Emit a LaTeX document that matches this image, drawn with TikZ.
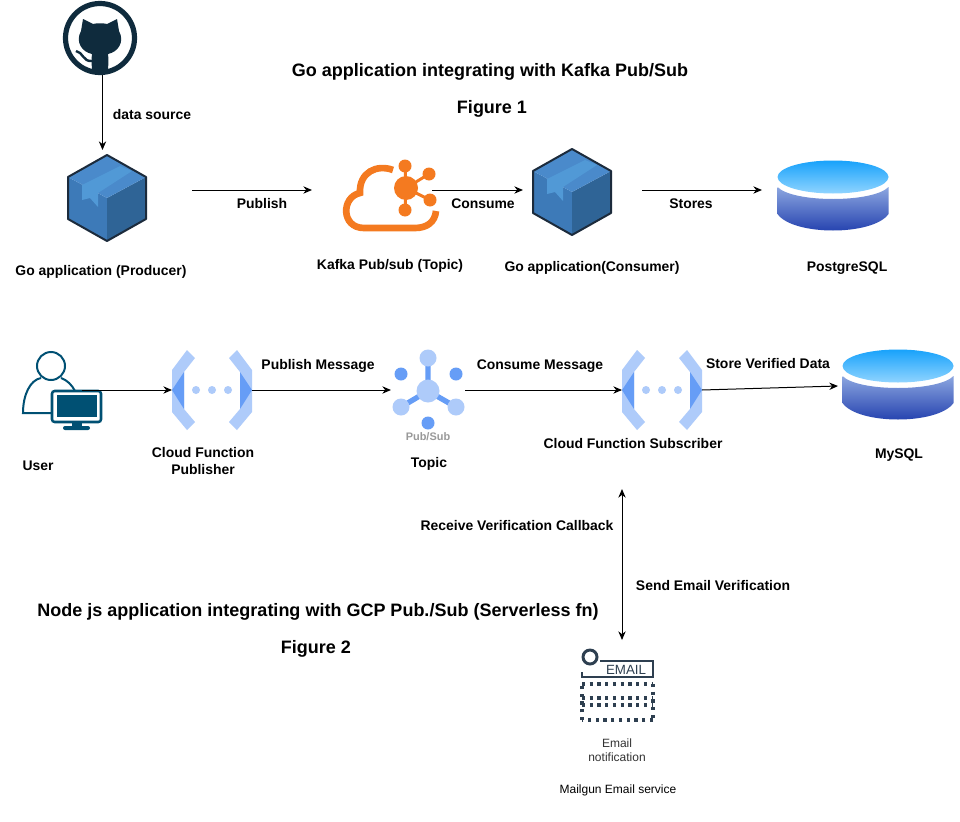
\documentclass[tikz,border=0pt]{standalone}
\usepackage{fontspec}
\usetikzlibrary{arrows.meta}
\setmainfont{Liberation Sans}
\definecolor{octo}{HTML}{0F2B3D}
\definecolor{boxtop}{HTML}{4A8ACB}
\definecolor{boxleft}{HTML}{3D7AB8}
\definecolor{boxright}{HTML}{2F6496}
\definecolor{boxedge}{HTML}{1C2B3C}
\definecolor{boxtape}{HTML}{5199D6}
\definecolor{kafka}{HTML}{F47A20}
\definecolor{gcplight}{HTML}{AECBFA}
\definecolor{gcpdark}{HTML}{669DF6}
\definecolor{usercol}{HTML}{005073}
\definecolor{mailcol}{HTML}{2E3F50}
\definecolor{dbtopa}{HTML}{18A2FB}
\definecolor{dbtopb}{HTML}{90D4FF}
\definecolor{dbbodya}{HTML}{8CA6E0}
\definecolor{dbbodyb}{HTML}{1A38AA}
\tikzset{
  iconnode/.style 2 args={inner sep=0pt,outer sep=0pt,minimum width=#1*0.75pt,minimum height=#2*0.75pt},
  label/.style={font=\bfseries\fontsize{10.45}{12.8}\selectfont,align=center,inner sep=0pt,yshift=-0.5pt},
  heading/.style={font=\bfseries\fontsize{13.5}{16}\selectfont,align=center,inner sep=0pt,yshift=-1pt},
  small/.style={font=\fontsize{9}{10.5}\selectfont,align=center,inner sep=0pt,text=black!80},
  gobox/.pic={
    \fill[boxleft] (-39,-21) -- (0,0) -- (0,43) -- (-39,21) -- cycle;
    \fill[boxright] (39,-21) -- (0,0) -- (0,43) -- (39,21) -- cycle;
    \fill[boxtop] (0,-43) -- (39,-21) -- (0,0) -- (-39,-21) -- cycle;
    \fill[boxtape] (-25,-13) -- (-25,2) -- (-17,0) -- (-9,9) -- (-9,-5) -- (25,-27) -- (13,-32) -- cycle;
    \draw[boxedge,line width=1.5pt,line join=round] (0,-43) -- (39,-21) -- (39,21) -- (0,43) -- (-39,21) -- (-39,-21) -- cycle;
  },
  dbcyl/.pic={
    \shade[top color=dbbodya,bottom color=dbbodyb] (-55.5,10) .. controls (-40,26) and (40,26) .. (55.5,10) -- (55.5,37) .. controls (40,59) and (-40,59) .. (-55.5,37) -- cycle;
    \shade[top color=dbtopa,bottom color=dbtopb] (0,0) ellipse [x radius=55.5,y radius=16.5];
  },
  cloudfn/.pic={
    \foreach \s in {-1,1} {
      \fill[gcplight,xscale=\s] (-25,-40) -- (-17,-32) -- (-28,-18) -- (-28,19) -- (-17,32) -- (-25,40) -- (-40,22) -- (-40,-20) -- cycle;
      \fill[gcpdark,xscale=\s] (-40,0) -- (-28,-18) -- (-28,19) -- cycle;
    }
    \foreach \x in {-16,0,16} \fill[gcplight] (\x,0) circle [radius=4];
  },
}
\begin{document}
\begin{tikzpicture}[x=0.75pt,y=-0.75pt,>={Stealth[length=6.5pt,width=5.5pt]},line width=0.75pt]
  \useasboundingbox (0,0) rectangle (960,821);
  \fill[white] (0,0) rectangle (960,821);

  \node[heading] (title1) at (490,71) {Go application integrating with Kafka Pub/Sub};
  \node[heading] (fig1) at (492,108) {Figure 1};
  \node[heading] (title2) at (318,611) {Node js application integrating with GCP Pub./Sub (Serverless fn)};
  \node[heading] (fig2) at (316,648) {Figure 2};

  \node[iconnode={76}{76}] (github) at (102.5,37) {};
  \node[iconnode={170}{80}] (producer) at (107,190) {};
  \node[iconnode={120}{80}] (kafkatopic) at (372,190) {};
  \node[iconnode={119}{80}] (consumer) at (582.5,190) {};
  \node[iconnode={142}{80}] (postgres) at (833,190) {};
  \node[iconnode={60}{80}] (user) at (52,390) {};
  \node[iconnode={80}{80}] (publisher) at (212,390) {};
  \node[iconnode={74}{80}] (topic) at (428,390) {};
  \node[iconnode={80}{80}] (subscriber) at (662,390) {};
  \node[iconnode={120}{80}] (mysql) at (898,386) {};
  \node[iconnode={80}{80}] (email) at (622,680) {};
  \coordinate (callback) at (622,489);

  % github
  \draw[octo,line width=3.9pt] (100,38) circle [radius=34.5];
  \fill[octo] (83,19) -- (93,24) .. controls (97,23) and (103,23) .. (107,24) -- (117,19) -- (119,31) .. controls (125,42) and (118,52) .. (108,54) .. controls (109,60) and (108,66) .. (108,73) -- (92,73) .. controls (92,66) and (91,60) .. (92,54) .. controls (82,52) and (75,42) .. (81,31) -- cycle;
  \draw[octo,line width=1.8pt] (76,51) .. controls (83,52) and (83,62) .. (92,61);

  \pic at (107,198) {gobox};
  \pic at (572,192) {gobox};

  % kafka
  \draw[kafka,line width=5pt] (393,170) .. controls (377,164) and (359,172) .. (360,193) .. controls (341,197) and (341,228) .. (364,228) -- (415,228) .. controls (427,228) and (435,222) .. (436,211);
  \draw[kafka,line width=2.2pt] (406,188) -- (405,166) (406,188) -- (429,174) (406,188) -- (430,200) (406,188) -- (405,210);
  \fill[kafka] (406,188) circle [radius=12];
  \fill[kafka] (405,166) circle [radius=6.5] (429,174) circle [radius=6.5] (430,200) circle [radius=6.5] (405,210) circle [radius=6.5];

  \pic at (833,177) {dbcyl};
  \pic at (898,366) {dbcyl};

  % user
  \draw[usercol,line width=1.5pt] (51,366) circle [radius=14];
  \draw[usercol,line width=1.5pt] (51,413) -- (23,413) .. controls (23,395) and (30,380) .. (41,378);
  \draw[usercol,line width=1.5pt] (61,378) .. controls (67,380) and (72,385) .. (75,391);
  \draw[usercol,line width=1.9pt,fill=white,rounded corners=2pt] (52,391) rectangle (101,422);
  \fill[usercol] (57,395) rectangle (97,417);
  \fill[usercol] (72,422) rectangle (82,428);
  \fill[usercol,rounded corners=1.5pt] (63,426) rectangle (90,430);

  \pic at (212,390) {cloudfn};
  \pic at (662,390) {cloudfn};

  % pub/sub
  \draw[gcpdark,line width=4pt] (428,391) -- (428,358) (428,391) -- (401,407) (428,391) -- (456,407);
  \fill[gcplight] (428,391) circle [radius=11.5] (428,358) circle [radius=8.5] (401,407) circle [radius=8.5] (456,407) circle [radius=8.5];
  \fill[gcpdark] (401,374) circle [radius=6.5] (456,374) circle [radius=6.5] (428,423) circle [radius=6.5];
  \node[font=\bfseries\fontsize{8.2}{10}\selectfont,text=black!40,inner sep=0pt] (pubsubtag) at (428,437) {Pub/Sub};

  % email
  \draw[mailcol,line width=2.2pt] (590,657) circle [radius=7];
  \draw[mailcol,line width=2.2pt] (600,661) -- (653,661) -- (653,677) -- (582,677) -- (582,672);
  \node[font=\fontsize{10}{12}\selectfont,text=mailcol,inner sep=0pt] (emailtag) at (626,669.5) {EMAIL};
  \draw[mailcol,line width=2.6pt,dash pattern=on 2.4pt off 3.4pt] (582,684) -- (653,684) (653,684) -- (653,720) (653,720) -- (582,720) (582,720) -- (582,684) (582,698) -- (653,698) (582,705) -- (653,705);

  \draw[->] (github.south) -- (github.south |- producer.north);
  \draw[->] (producer.east) -- (kafkatopic.west);
  \draw[->] (kafkatopic.east) -- (consumer.west);
  \draw[->] (consumer.east) -- (postgres.west);
  \draw[->] (user.east) -- (publisher.west);
  \draw[->] (publisher.east) -- (topic.west);
  \draw[->] (topic.east) -- (subscriber.west);
  \draw[->] (subscriber.east) -- (mysql.west);
  \draw[<->] (callback) -- (email.north);

  \node[label] (dslabel) at (152,114) {data source};
  \node[label] (publabel) at (262,203) {Publish};
  \node[label] (conlabel) at (483,203) {Consume};
  \node[label] (stlabel) at (691,203) {Stores};
  \node[label] (prodname) at (101,271.5) {Go application (Producer)};
  \node[label] (kafkaname) at (390,265) {Kafka Pub/sub (Topic)};
  \node[label] (consname) at (592,267) {Go application(Consumer)};
  \node[label] (pgname) at (847,267) {PostgreSQL};
  \node[label] (pmlabel) at (318,365) {Publish Message};
  \node[label] (cmlabel) at (540,365) {Consume Message};
  \node[label] (svlabel) at (768,363) {Store Verified Data};
  \node[label] (username) at (38,465) {User};
  \node[label] (pubname) at (203,460.5) {Cloud Function\\Publisher};
  \node[label] (topicname) at (429,463) {Topic};
  \node[label] (subname) at (633,443) {Cloud Function Subscriber};
  \node[label] (myname) at (899,454) {MySQL};
  \node[label] (rvlabel) at (517,525) {Receive Verification Callback};
  \node[label] (selabel) at (713,585) {Send Email Verification};
  \node[small] (emailname) at (617,750) {Email\\notification};
  \node[small,text=black] (mailgun) at (618,790) {Mailgun Email service};
\end{tikzpicture}
\end{document}
